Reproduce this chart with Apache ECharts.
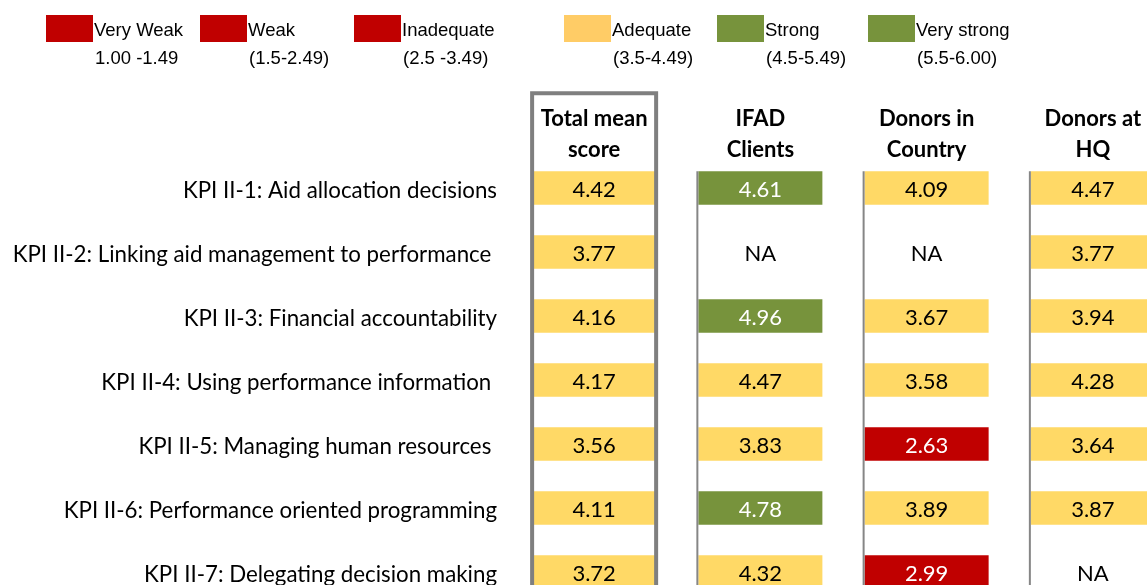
<!DOCTYPE html>
<html>
<head>
<meta charset="utf-8">
<script src="https://cdn.jsdelivr.net/npm/echarts@6.0.0/dist/echarts.min.js"></script>
<style>
  html, body { margin: 0; padding: 0; background: #fff; }
  #chart { width: 1147px; height: 585px; }
</style>
</head>
<body>
<div id="chart"></div>
<script>
// KPI rows (trailing spaces kept as in the source sheet)
var kpis = [
  'KPI II-1: Aid allocation decisions',
  'KPI II-2: Linking aid management to performance ',
  'KPI II-3: Financial accountability',
  'KPI II-4: Using performance information ',
  'KPI II-5: Managing human resources ',
  'KPI II-6: Performance oriented programming',
  'KPI II-7: Delegating decision making'
]
var columns = ['Total mean\nscore', 'IFAD\nClients', 'Donors in\nCountry', 'Donors at\nHQ']

// mean scores per respondent group, null = NA
var totalScores = [4.42, 3.77, 4.16, 4.17, 3.56, 4.11, 3.72]
var ifadScores = [4.61, null, 4.96, 4.47, 3.83, 4.78, 4.32]
var countryScores = [4.09, null, 3.67, 3.58, 2.63, 3.89, 2.99]
var hqScores = [4.47, 3.77, 3.94, 4.28, 3.64, 3.87, null]

// rating scale
var ratingNames = ['Very Weak', 'Weak', 'Inadequate', 'Adequate', 'Strong', 'Very strong']
var ratingRanges = ['1.00 -1.49', '(1.5-2.49)', '(2.5 -3.49)', '(3.5-4.49)', '(4.5-5.49)', '(5.5-6.00)']
var ratingMin = [1, 1.5, 2.5, 3.5, 4.5, 5.5]

var RED = '#C00000'
var YELLOW = '#FFD966'
var GREEN = '#77933C'
var legendColors = [RED, RED, RED, '#FFCC66', GREEN, GREEN]
var cellColors = [RED, RED, RED, YELLOW, GREEN, GREEN]
var legendX = [46, 200, 354, 564, 717, 868]

function ratingIndex(v) {
  var idx = 0
  for (var i = 0; i < ratingMin.length; i++) {
    if (v >= ratingMin[i]) idx = i
  }
  return idx
}

var cellData = []
;[totalScores, ifadScores, countryScores, hqScores].forEach(function(arr, c) {
  arr.forEach(function(v, r) {
    cellData.push([c, r, v === null ? '-' : v])
  })
})

var CELL_FONT = '22px Lato'

function renderCell(params, api) {
  var c = api.coord([api.value(0), api.value(1)])
  var size = api.size([1, 1])
  var w = size[0] * 0.746
  var h = size[1] * 0.524
  var v = api.value(2)
  var children = []
  var hasVal = !isNaN(v) && v !== null
  var textColor = '#000'
  if (hasVal) {
    var ri = ratingIndex(v)
    children.push({
      type: 'rect',
      shape: { x: c[0] - w / 2, y: c[1] - h / 2, width: w, height: h },
      style: { fill: cellColors[ri] }
    })
    if (ri !== 3) textColor = '#fff'
  }
  children.push({
    type: 'text',
    style: {
      text: hasVal ? v.toFixed(2) : 'NA',
      x: c[0],
      y: c[1] + 2,
      align: 'center',
      verticalAlign: 'middle',
      fill: textColor,
      font: CELL_FONT
    }
  })
  return { type: 'group', children: children }
}

// column frame: box round the total column, thin rule left of the others
function renderFrame(params, api) {
  var col = api.value(0)
  var c = api.coord([col, 0])
  var size = api.size([1, 1])
  var w = size[0] * 0.746
  var h = size[1] * 0.524
  if (col === 0) {
    var top = c[1] - size[1] * 1.48
    return {
      type: 'rect',
      shape: { x: c[0] - w / 2, y: top, width: w, height: 700 },
      style: { fill: 'none', stroke: '#7F7F7F', lineWidth: 4 }
    }
  }
  var x = c[0] - w / 2 - 1
  return {
    type: 'line',
    shape: { x1: x, y1: c[1] - h / 2, x2: x, y2: 700 },
    style: { stroke: '#868686', lineWidth: 2 }
  }
}

var legendGraphics = []
ratingNames.forEach(function(name, i) {
  var x = legendX[i]
  legendGraphics.push({
    type: 'rect',
    left: x, top: 15,
    shape: { width: 47, height: 27 },
    style: { fill: legendColors[i] }
  })
  legendGraphics.push({
    type: 'text',
    x: x + 48, y: 31,
    style: { text: name, font: '18.5px "Liberation Sans"', fill: '#000', verticalAlign: 'middle' }
  })
  legendGraphics.push({
    type: 'text',
    x: x + 49, y: 59,
    style: { text: ratingRanges[i], font: '18.5px "Liberation Sans"', fill: '#000', verticalAlign: 'middle' }
  })
})

var chart = echarts.init(document.getElementById('chart'))
chart.setOption({
  animation: false,
  backgroundColor: '#fff',
  grid: {
    left: 511, top: 156, width: 665, height: 448,
    containLabel: false,
    outerBoundsMode: 'none'
  },
  xAxis: {
    type: 'category',
    position: 'top',
    data: columns,
    axisLine: { show: false },
    axisTick: { show: false },
    splitLine: { show: false },
    axisLabel: {
      interval: 0,
      margin: -9,
      color: '#000',
      fontFamily: 'Lato',
      fontWeight: 'bold',
      fontSize: 22,
      lineHeight: 31
    }
  },
  yAxis: {
    type: 'category',
    inverse: true,
    data: kpis,
    axisLine: { show: false },
    axisTick: { show: false },
    splitLine: { show: false },
    axisLabel: {
      interval: 0,
      margin: 14,
      color: '#000',
      formatter: function(name) {
        return '{k|' + name + '}'
      },
      rich: {
        k: {
          fontFamily: 'Lato',
          fontSize: 22.3,
          color: '#000',
          padding: [6, 0, 0, 0]
        }
      }
    }
  },
  graphic: legendGraphics,
  series: [
    {
      type: 'custom',
      name: 'cells',
      renderItem: renderCell,
      encode: { x: 0, y: 1 },
      data: cellData,
      silent: true
    },
    {
      type: 'custom',
      name: 'frame',
      renderItem: renderFrame,
      encode: { x: 0, y: 1 },
      data: [[0, 0], [1, 0], [2, 0], [3, 0]],
      silent: true
    }
  ]
})
</script>
</body>
</html>
